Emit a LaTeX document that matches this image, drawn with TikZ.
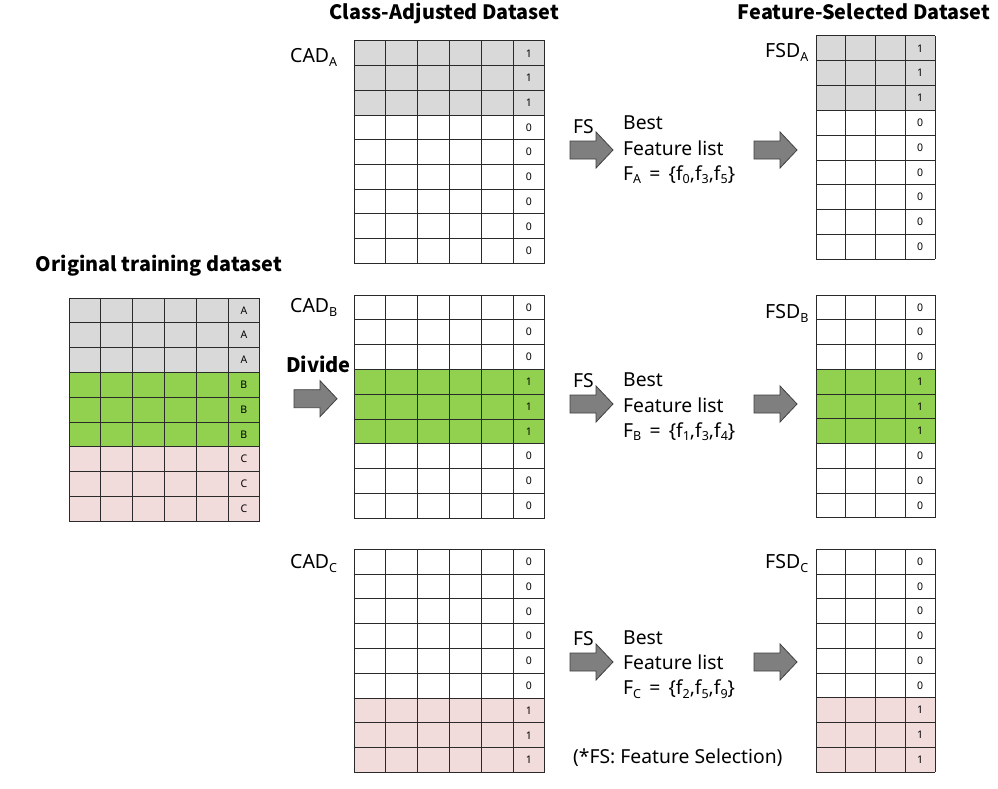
\documentclass[tikz,border=0pt]{standalone}
\usepackage{fontspec}
\setmainfont{Noto Sans}
\newfontfamily\cjkbold{Noto Sans CJK KR}
\definecolor{cgray}{HTML}{D9D9D9}
\definecolor{cgreen}{HTML}{92D050}
\definecolor{cpink}{HTML}{F2DCDB}
\definecolor{agray}{HTML}{7F7F7F}
\definecolor{gline}{HTML}{2A2A2A}
\tikzset{
  gridline/.style={draw=gline,line width=1pt},
  cellnum/.style={font=\fontsize{10.5}{10.5}\selectfont,inner sep=0pt},
  blockarrow/.style={fill=agray,draw=black!75,line width=0.8pt,line join=miter},
  bodytext/.style={font=\fontsize{19.3}{19.3}\selectfont,anchor=base west,inner sep=0pt},
  titletext/.style={font=\fontsize{19.8}{19.8}\selectfont\cjkbold\bfseries,anchor=base,inner sep=0pt},
  labeltext/.style={font=\fontsize{19.5}{19.5}\selectfont,anchor=base west,inner sep=0pt},
}
\newcommand{\dtab}[7]{%
  \coordinate (#1) at (#2,#3);
  \foreach \f/\l [count=\i from 0] in {#7}{
    \fill[\f] (#2,{#3+\i*#6}) rectangle ({#2+#4*#5},{#3+(\i+1)*#6});
    \node[cellnum] at ({#2+(#4-0.5)*#5},{#3+(\i+0.5)*#6}) {\l};
  }
  \foreach \c in {0,...,#4} \draw[gridline] ({#2+\c*#5},#3) -- ({#2+\c*#5},{#3+9*#6});
  \foreach \r in {0,...,9} \draw[gridline] (#2,{#3+\r*#6}) -- ({#2+#4*#5},{#3+\r*#6});
}
\newcommand{\barrow}[3]{%
  \coordinate (#1) at (#2,#3);
  \draw[blockarrow] (#2,#3-9) -- (#2+26,#3-9) -- (#2+26,#3-18) -- (#2+43,#3)
    -- (#2+26,#3+18) -- (#2+26,#3+9) -- (#2,#3+9) -- cycle;
}
\newcommand{\subs}[1]{\raisebox{-4pt}{\fontsize{12.5}{12.5}\selectfont #1}}
\newcommand{\fsub}[1]{\raisebox{-3.5pt}{\fontsize{12.5}{12.5}\selectfont #1}}
\begin{document}
\begin{tikzpicture}[x=1pt,y=-1pt]
\useasboundingbox (0,0) rectangle (998,789);
\fill[white] (0,0) rectangle (998,789);

% titles
\node[titletext] (t1) at (444.5,20) {Class-Adjusted Dataset};
\node[titletext] (t2) at (864,20) {Feature-Selected Dataset};
\node[titletext] (t3) at (159,271) {Original training dataset};

% original table
\dtab{orig}{69}{298}{6}{31.8}{24.8}{cgray/A,cgray/A,cgray/A,cgreen/B,cgreen/B,cgreen/B,cpink/C,cpink/C,cpink/C}

% CAD tables
\dtab{cada}{354}{41}{6}{31.8}{24.7}{cgray/1,cgray/1,cgray/1,white/0,white/0,white/0,white/0,white/0,white/0}
\dtab{cadb}{354}{295}{6}{31.8}{24.8}{white/0,white/0,white/0,cgreen/1,cgreen/1,cgreen/1,white/0,white/0,white/0}
\dtab{cadc}{354}{549.3}{6}{31.8}{24.8}{white/0,white/0,white/0,white/0,white/0,white/0,cpink/1,cpink/1,cpink/1}

% FSD tables
\dtab{fsda}{816}{36}{4}{29.75}{24.8}{cgray/1,cgray/1,cgray/1,white/0,white/0,white/0,white/0,white/0,white/0}
\dtab{fsdb}{816}{295}{4}{29.75}{24.75}{white/0,white/0,white/0,cgreen/1,cgreen/1,cgreen/1,white/0,white/0,white/0}
\dtab{fsdc}{816}{549.3}{4}{29.75}{24.75}{white/0,white/0,white/0,white/0,white/0,white/0,cpink/1,cpink/1,cpink/1}

% table labels
\node[labeltext] (la) at (290,63) {CAD\subs{A}};
\node[labeltext] (lb) at (290,312) {CAD\subs{B}};
\node[labeltext] (lc) at (290,568) {CAD\subs{C}};
\node[labeltext] (lfa) at (765,58) {FSD\subs{A}};
\node[labeltext] (lfb) at (765,318) {FSD\subs{B}};
\node[labeltext] (lfc) at (765,568) {FSD\subs{C}};

% Divide
\node[font=\fontsize{20}{20}\selectfont\cjkbold\bfseries,anchor=base west,inner sep=0pt] (div) at (286,372) {Divide};
\barrow{dar}{294}{398.7}

% FS arrows and texts
\barrow{fsa}{570}{150}
\barrow{fsb}{570}{404}
\barrow{fsc}{570}{662}
\barrow{ra}{754}{150}
\barrow{rb}{754}{404}
\barrow{rc}{754}{662}

\node[bodytext] (fsla) at (573,133) {FS};
\node[bodytext] (fslb) at (573,387) {FS};
\node[bodytext] (fslc) at (573,645) {FS};

\node[bodytext] (ba) at (623,129) {Best};
\node[bodytext] (fa) at (623,155) {Feature list};
\node[bodytext] (ea) at (623,180) {F\fsub{A}\ \,=\ \,\{f\fsub{0},f\fsub{3},f\fsub{5}\}};

\node[bodytext] (bb) at (623,386) {Best};
\node[bodytext] (fb) at (623,412) {Feature list};
\node[bodytext] (eb) at (623,437) {F\fsub{B}\ \,=\ \,\{f\fsub{1},f\fsub{3},f\fsub{4}\}};

\node[bodytext] (bc) at (623,644) {Best};
\node[bodytext] (fc) at (623,669.5) {Feature list};
\node[bodytext] (ec) at (623,694.5) {F\fsub{C}\ \,=\ \,\{f\fsub{2},f\fsub{5},f\fsub{9}\}};

\node[bodytext] (note) at (573,763) {(*FS: Feature Selection)};
\end{tikzpicture}
\end{document}
